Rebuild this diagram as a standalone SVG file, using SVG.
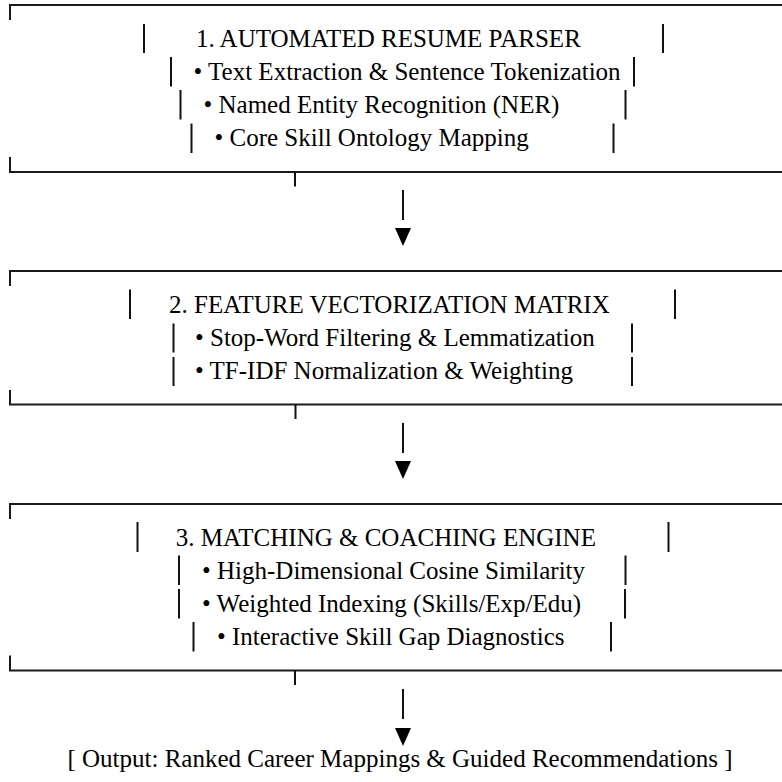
<svg xmlns="http://www.w3.org/2000/svg" width="782" height="782" viewBox="0 0 782 782">
  <style>
    .t { font-family: "Times New Roman", "Liberation Serif", "DejaVu Serif", serif; font-size: 25px; fill: #000; }
    .frame { fill: none; stroke: #1a1a1a; stroke-width: 2; }
    .bar { stroke: #111; stroke-width: 2; }
    .conn { stroke: #111; stroke-width: 2; }
    .head { fill: #000; }
  </style>
  <rect width="782" height="782" fill="#fff"/>

  <g id="node1">
    <path class="frame" d="M10 20 V5 H782"/>
    <path class="frame" d="M10 157 V172 H782"/>
    <line class="bar" x1="144" y1="24" x2="144" y2="53"/>
    <line class="bar" x1="663" y1="24" x2="663" y2="53"/>
    <text class="t" x="196" y="46.7">1. AUTOMATED RESUME PARSER</text>
    <line class="bar" x1="171" y1="57" x2="171" y2="86.5"/>
    <line class="bar" x1="634" y1="57" x2="634" y2="86.5"/>
    <text class="t" x="193.5" y="80">• Text Extraction &amp; Sentence Tokenization</text>
    <line class="bar" x1="180.5" y1="90" x2="180.5" y2="119.5"/>
    <line class="bar" x1="625.5" y1="90" x2="625.5" y2="119.5"/>
    <text class="t" x="203.5" y="113.2">• Named Entity Recognition (NER)</text>
    <line class="bar" x1="191.5" y1="123.5" x2="191.5" y2="153"/>
    <line class="bar" x1="613.5" y1="123.5" x2="613.5" y2="153"/>
    <text class="t" x="214.5" y="146.4">• Core Skill Ontology Mapping</text>
  </g>

  <g id="node2">
    <path class="frame" d="M10 286 V271 H782"/>
    <path class="frame" d="M10 390 V404.5 H782"/>
    <line class="bar" x1="130" y1="289.5" x2="130" y2="319"/>
    <line class="bar" x1="675" y1="289.5" x2="675" y2="319"/>
    <text class="t" x="169" y="312.5">2. FEATURE VECTORIZATION MATRIX</text>
    <line class="bar" x1="173.5" y1="323.5" x2="173.5" y2="352.5"/>
    <line class="bar" x1="632" y1="323.5" x2="632" y2="352.5"/>
    <text class="t" x="195" y="346">• Stop-Word Filtering &amp; Lemmatization</text>
    <line class="bar" x1="173.5" y1="357" x2="173.5" y2="386"/>
    <line class="bar" x1="632" y1="357" x2="632" y2="386"/>
    <text class="t" x="195" y="379.2">• TF-IDF Normalization &amp; Weighting</text>
  </g>

  <g id="node3">
    <path class="frame" d="M10 519 V504 H782"/>
    <path class="frame" d="M10 655.5 V670.5 H782"/>
    <line class="bar" x1="137.5" y1="522" x2="137.5" y2="552"/>
    <line class="bar" x1="668.5" y1="522" x2="668.5" y2="552"/>
    <text class="t" x="175.8" y="545.5">3. MATCHING &amp; COACHING ENGINE</text>
    <line class="bar" x1="179" y1="555.5" x2="179" y2="585"/>
    <line class="bar" x1="625.5" y1="555.5" x2="625.5" y2="585"/>
    <text class="t" x="202" y="578.7">• High-Dimensional Cosine Similarity</text>
    <line class="bar" x1="179" y1="589" x2="179" y2="618.5"/>
    <line class="bar" x1="625" y1="589" x2="625" y2="618.5"/>
    <text class="t" x="202" y="612">• Weighted Indexing (Skills/Exp/Edu)</text>
    <line class="bar" x1="193.5" y1="622" x2="193.5" y2="651.5"/>
    <line class="bar" x1="611" y1="622" x2="611" y2="651.5"/>
    <text class="t" x="217" y="645.2">• Interactive Skill Gap Diagnostics</text>
  </g>

  <g id="output">
    <text class="t" x="400" y="767" text-anchor="middle">[ Output: Ranked Career Mappings &amp; Guided Recommendations ]</text>
  </g>

  <g id="connectors">
    <line class="conn" x1="295" y1="172" x2="295" y2="186.5"/>
    <line class="conn" x1="403" y1="190" x2="403" y2="220"/>
    <polygon class="head" points="395,228 411,228 403,246"/>

    <line class="conn" x1="295.5" y1="404.5" x2="295.5" y2="419"/>
    <line class="conn" x1="403" y1="423" x2="403" y2="453"/>
    <polygon class="head" points="395,461 411,461 403,479"/>

    <line class="conn" x1="295" y1="670.5" x2="295" y2="685"/>
    <line class="conn" x1="403" y1="689" x2="403" y2="719"/>
    <polygon class="head" points="395,728 411,728 403,746"/>
  </g>
</svg>
